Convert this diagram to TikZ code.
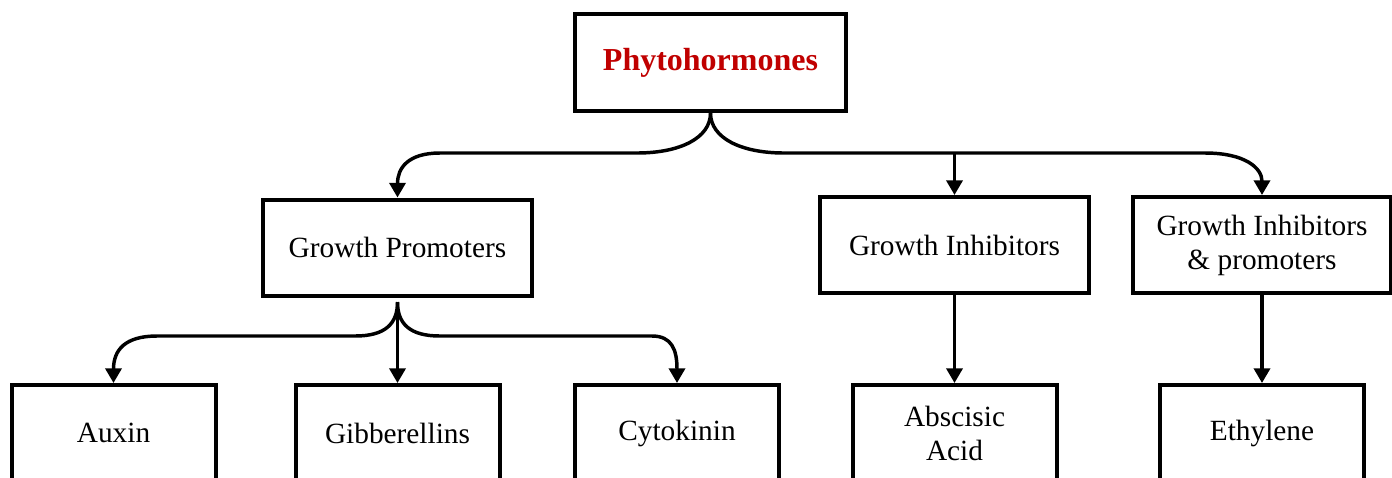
\documentclass[tikz,border=0pt]{standalone}
\usepackage{fontspec}
\setmainfont{Liberation Serif}
\usetikzlibrary{arrows.meta}
\definecolor{phytored}{RGB}{192,0,0}

\begin{document}
\begin{tikzpicture}[x=0.375pt, y=-0.375pt,
        hbox/.style={draw, line width=1.5pt, inner sep=0pt, align=center, minimum height=36pt, font=\fontsize{11}{12.75}\selectfont},
        link/.style={line width=1.3pt, -{Triangle[width=6pt,length=5.5pt]}}]
        \useasboundingbox (0,0) rectangle (1392,477);
        \clip (0,0) rectangle (1392,477);
        % Kotak utama
        \node[hbox, minimum width=101.6pt, minimum height=36.4pt, font=\fontsize{12}{14}\selectfont\bfseries, text=phytored] (phyto) at (710.5,62.5) {Phytohormones};
        % Baris kedua
        \node[hbox, minimum width=101pt] (promo) at (397.5,247.5) {Growth Promoters};
        \node[hbox, minimum width=101pt] (inhib) at (954.5,245) {Growth Inhibitors};
        \node[hbox, minimum width=96.8pt] (inpro) at (1262,245) {Growth Inhibitors\\\& promoters};
        % Baris ketiga
        \node[hbox, minimum width=76.5pt] (auxin) at (113.5,433) {Auxin};
        \node[hbox, minimum width=76.5pt] (gibb) at (397.5,433) {Gibberellins};
        \node[hbox, minimum width=76.5pt] (cyto) at (677,433) {Cytokinin};
        \node[hbox, minimum width=76.5pt] (absc) at (954.5,433) {Abscisic\\Acid};
        \node[hbox, minimum width=76.5pt] (ethyl) at (1262,433) {Ethylene};
        % Cabang atas
        \coordinate (fork) at (710.5,153);
        \draw[link] (phyto.south) .. controls (710.5,138) and (680,153) .. (637,153) -- (440,153) .. controls (408,153) and (397.5,168) .. (promo.north);
        \draw[link] (phyto.south) .. controls (710.5,138) and (741,153) .. (784,153) -- (1205,153) .. controls (1245,153) and (1262,168) .. (inpro.north);
        \draw[link] (fork -| inhib.north) -- (inhib.north);
        % Cabang bawah
        \coordinate (stem) at (397.5,302);
        \draw[link] (stem) .. controls (397.5,324) and (385,336) .. (355,336) -- (157,336) .. controls (125,336) and (113.5,350) .. (auxin.north);
        \draw[link] (stem) .. controls (397.5,324) and (410,336) .. (440,336) -- (652,336) .. controls (672,336) and (677,350) .. (cyto.north);
        \draw[link] (stem) -- (gibb.north);
        \draw[link] (inhib.south) -- (absc.north);
        \draw[link] (inpro.south) -- (ethyl.north);
      \end{tikzpicture}
\end{document}
